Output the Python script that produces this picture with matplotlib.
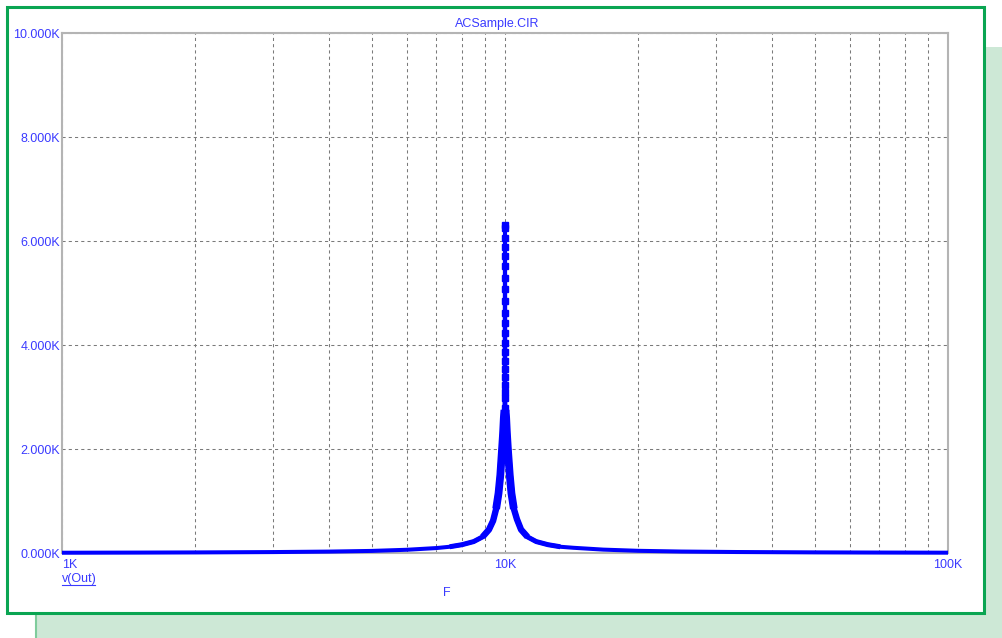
import numpy as np
import matplotlib
matplotlib.use("Agg")
import matplotlib.pyplot as plt
from matplotlib.patches import Rectangle
from matplotlib.lines import Line2D
from matplotlib.ticker import LogLocator, NullFormatter

# frequency (Hz) and v(Out) (in K)
freq_left = [1000, 1500, 2000, 3000, 4000, 5000, 6000, 7000, 7500, 8000, 8500,
             8900, 9200, 9400, 9550, 9670, 9760, 9840, 9900, 9940, 9970]
vout_left = [0.005, 0.008, 0.011, 0.018, 0.027, 0.040, 0.062, 0.095, 0.12, 0.16, 0.22,
             0.31, 0.45, 0.62, 0.85, 1.15, 1.50, 1.95, 2.30, 2.60, 2.75]

# points stacked on the 10K column
freq_peak = [9980, 9982, 9984, 9986, 9988, 9990, 9992, 9994, 9996, 9998, 10000,
             10002, 10004, 10006, 10008, 10010, 10012, 10014, 10016, 10018, 10020]
vout_peak = [2.99, 3.23, 3.53, 3.86, 4.23, 4.62, 5.07, 5.51, 5.88, 6.25, 6.30,
             6.06, 5.71, 5.29, 4.85, 4.42, 4.03, 3.69, 3.38, 3.10, 2.79]

freq_right = [10030, 10060, 10100, 10160, 10250, 10340, 10470, 10640, 10870, 11240,
              11760, 12500, 13330, 14290, 16670, 20000, 25000, 33300, 50000, 66700, 100000]
vout_right = [2.75, 2.60, 2.30, 1.95, 1.50, 1.15, 0.85, 0.65, 0.45, 0.31,
              0.22, 0.16, 0.12, 0.10, 0.065, 0.042, 0.028, 0.019, 0.012, 0.009, 0.006]

yticks = [0, 2, 4, 6, 8, 10]
xticks = [1e3, 1e4, 1e5]
xtick_labels = ["1K", "10K", "100K"]

W, H = 1002, 638
BLUE = "#0000ff"
TXT = "#3a3aff"
GREEN = "#0aa552"
FS = 9

plt.rcParams["font.family"] = ["Liberation Sans", "DejaVu Sans"]
plt.rcParams["font.size"] = FS

fig = plt.figure(figsize=(W / 100, H / 100), dpi=100)
fig.patch.set_facecolor("white")


def px(x, y, w, h):
    # pixel box (top-left origin) -> figure fraction rect
    return (x / W, 1 - (y + h) / H), w / W, h / H


# light green panel behind, white frame with green border in front
xy, w, h = px(35, 47, 967, 591)
fig.add_artist(Rectangle(xy, w, h, transform=fig.transFigure,
                         facecolor="#cde8d6", edgecolor="none", zorder=0))
fig.add_artist(Line2D([35.5 / W, 35.5 / W], [0, 1 - 47 / H], transform=fig.transFigure,
                      color="#7fcc9c", lw=1.5, zorder=0.5))
xy, w, h = px(7, 7, 977, 605.5)
fig.add_artist(Rectangle(xy, w, h, transform=fig.transFigure,
                         facecolor="white", edgecolor=GREEN, lw=2.2, zorder=1))

ax = fig.add_axes([62 / W, (H - 553) / H, 886 / W, 520 / H])
ax.set_zorder(2)
ax.set_facecolor("white")

f = np.array(freq_left + freq_peak + freq_right)
v = np.array(vout_left + vout_peak + vout_right)
fl, vl = np.array(freq_left), np.array(vout_left)
fr, vr = np.array(freq_right), np.array(vout_right)

# whole trace
ax.plot(f, v, color=BLUE, lw=2.9, solid_capstyle="butt", solid_joinstyle="round",
        zorder=4, clip_on=False)
# the flanks get fatter towards the peak in the original (dense samples overlap)
for lim, lw in [(0.1, 3.6), (0.3, 4.6), (0.7, 5.6)]:
    for ff, vv in [(fl, vl), (fr, vr)]:
        m = vv > lim
        ax.plot(ff[m], vv[m], color=BLUE, lw=lw, solid_joinstyle="round",
                solid_capstyle="butt", zorder=4)
# sample markers that stand apart on the 10K column
ax.plot(freq_peak, vout_peak, ls="none", marker="s", ms=4.6, mec=BLUE, mfc=BLUE, zorder=5)

ax.set_xscale("log")
ax.set_xlim(1e3, 1e5)
ax.set_ylim(0, 10)

ax.set_yticks(yticks)
ax.set_yticklabels([f"{t:.3f}K" for t in yticks])
ax.set_xticks(xticks)
ax.set_xticklabels(xtick_labels)
ax.xaxis.set_minor_locator(LogLocator(base=10, subs=range(2, 10)))
ax.xaxis.set_minor_formatter(NullFormatter())
ax.tick_params(axis="both", which="both", length=0, colors=TXT, labelsize=FS)
ax.tick_params(axis="y", pad=1.5)
ax.tick_params(axis="x", pad=4)
labs = ax.get_xticklabels()
labs[0].set_ha("left")

ax.grid(True, which="both", axis="x", color="#7a7a7a", lw=0.75, ls=(0, (3, 3)))
ax.grid(True, which="major", axis="y", color="#7a7a7a", lw=0.75, ls=(0, (3, 3)))
ax.set_axisbelow(True)
for s in ax.spines.values():
    s.set_color("#b4b4b4")
    s.set_linewidth(1.5)

fig.text(497 / W, 1 - 24 / H, "ACSample.CIR", color=TXT, ha="center", va="center",
         fontsize=FS, zorder=3)
fig.text(62 / W, 1 - 579 / H, "v(Out)", color=TXT, ha="left", va="center",
         fontsize=FS, zorder=3)
fig.add_artist(Line2D([62 / W, 95 / W], [1 - 584.5 / H, 1 - 584.5 / H],
                      transform=fig.transFigure, color=TXT, lw=0.8, zorder=3))
fig.text(447 / W, 1 - 593 / H, "F", color=TXT, ha="center", va="center",
         fontsize=FS, zorder=3)

fig.savefig("out.png", dpi=100)
